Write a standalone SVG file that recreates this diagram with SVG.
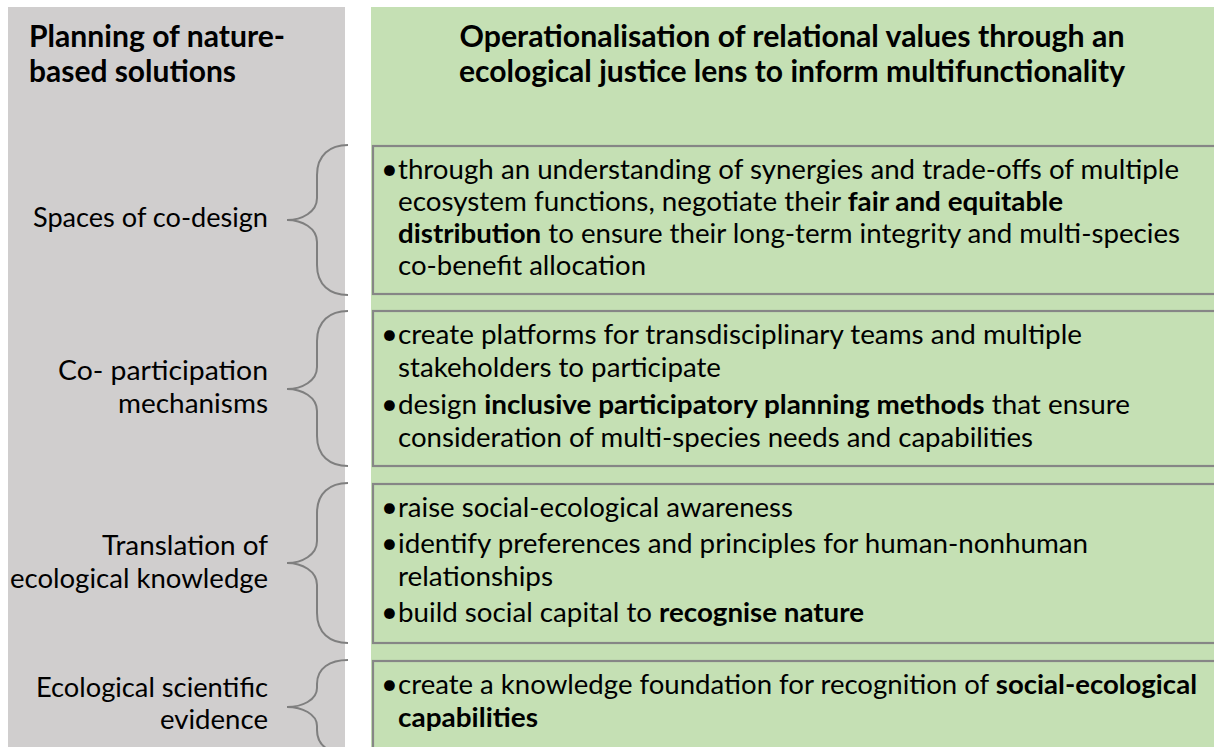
<svg xmlns="http://www.w3.org/2000/svg" width="1214" height="747" viewBox="0 0 1214 747">
<defs>
<style>
.t{font-family:Lato,"Liberation Sans",sans-serif;font-size:27px;fill:#000}
.b{font-weight:700}
.bul{font-family:Lato,"Liberation Sans",sans-serif;font-size:29px;fill:#000}
.h{font-family:Lato,"Liberation Sans",sans-serif;font-size:29.5px;font-weight:700;fill:#000}
.box{fill:#C5E0B4;stroke:#868686;stroke-width:2.2}
.brace{fill:none;stroke:#7F7F7F;stroke-width:2}
</style>
</defs>
<rect width="1214" height="747" fill="#FFFFFF"/>
<g id="left-column">
<rect x="8" y="7" width="337" height="745" fill="#D0CECE"/>
<text class="h" x="29" y="47" textLength="256" lengthAdjust="spacingAndGlyphs">Planning of nature-</text>
<text class="h" x="29" y="82" textLength="207" lengthAdjust="spacingAndGlyphs">based solutions</text>
</g>
<g id="right-column">
<rect x="371" y="7" width="850" height="745" fill="#C5E0B4"/>
<text class="h" x="792" y="47" text-anchor="middle" textLength="665" lengthAdjust="spacingAndGlyphs">Operationalisation of relational values through an</text>
<text class="h" x="792" y="82" text-anchor="middle" textLength="666" lengthAdjust="spacingAndGlyphs">ecological justice lens to inform multifunctionality</text>
</g>
<g id="label-spaces">
<text class="t" x="268" y="227" text-anchor="end" textLength="235" lengthAdjust="spacingAndGlyphs">Spaces of co-design</text>
</g>
<g id="label-coparticipation">
<text class="t" x="268" y="380" text-anchor="end" textLength="210" lengthAdjust="spacingAndGlyphs">Co- participation</text>
<text class="t" x="268" y="413" text-anchor="end" textLength="150" lengthAdjust="spacingAndGlyphs">mechanisms</text>
</g>
<g id="label-translation">
<text class="t" x="268" y="555" text-anchor="end" textLength="166" lengthAdjust="spacingAndGlyphs">Translation of</text>
<text class="t" x="268" y="588" text-anchor="end" textLength="258" lengthAdjust="spacingAndGlyphs">ecological knowledge</text>
</g>
<g id="label-evidence">
<text class="t" x="268" y="697" text-anchor="end" textLength="232" lengthAdjust="spacingAndGlyphs">Ecological scientific</text>
<text class="t" x="268" y="729" text-anchor="end" textLength="108" lengthAdjust="spacingAndGlyphs">evidence</text>
</g>
<g id="box-distribution">
<rect class="box" x="373" y="146" width="860" height="148"/>
<text class="bul" x="381" y="179">•</text>
<text class="t" x="398" y="179" textLength="781" lengthAdjust="spacingAndGlyphs">through an understanding of synergies and trade-offs of multiple</text>
<text class="t" x="398" y="211" textLength="665" lengthAdjust="spacingAndGlyphs">ecosystem functions, negotiate their <tspan class="b">fair and equitable</tspan></text>
<text class="t" x="398" y="243" textLength="782" lengthAdjust="spacingAndGlyphs"><tspan class="b">distribution</tspan> to ensure their long-term integrity and multi-species</text>
<text class="t" x="398" y="275" textLength="248" lengthAdjust="spacingAndGlyphs">co-benefit allocation</text>
</g>
<g id="box-participation">
<rect class="box" x="373" y="311" width="860" height="155"/>
<text class="bul" x="381" y="344">•</text>
<text class="t" x="398" y="344" textLength="684" lengthAdjust="spacingAndGlyphs">create platforms for transdisciplinary teams and multiple</text>
<text class="t" x="398" y="377" textLength="323" lengthAdjust="spacingAndGlyphs">stakeholders to participate</text>
<text class="bul" x="381" y="414">•</text>
<text class="t" x="398" y="414" textLength="732" lengthAdjust="spacingAndGlyphs">design <tspan class="b">inclusive participatory planning methods</tspan> that ensure</text>
<text class="t" x="398" y="447" textLength="635" lengthAdjust="spacingAndGlyphs">consideration of multi-species needs and capabilities</text>
</g>
<g id="box-awareness">
<rect class="box" x="373" y="484" width="860" height="159"/>
<text class="bul" x="381" y="517">•</text>
<text class="t" x="398" y="517" textLength="395" lengthAdjust="spacingAndGlyphs">raise social-ecological awareness</text>
<text class="bul" x="381" y="553">•</text>
<text class="t" x="398" y="553" textLength="690" lengthAdjust="spacingAndGlyphs">identify preferences and principles for human-nonhuman</text>
<text class="t" x="398" y="586" textLength="155" lengthAdjust="spacingAndGlyphs">relationships</text>
<text class="bul" x="381" y="622">•</text>
<text class="t" x="398" y="622" textLength="466" lengthAdjust="spacingAndGlyphs">build social capital to <tspan class="b">recognise nature</tspan></text>
</g>
<g id="box-knowledge">
<rect class="box" x="373" y="661" width="860" height="100"/>
<text class="bul" x="381" y="694">•</text>
<text class="t" x="398" y="694" textLength="799" lengthAdjust="spacingAndGlyphs">create a knowledge foundation for recognition of <tspan class="b">social-ecological</tspan></text>
<text class="t b" x="398" y="727" textLength="140" lengthAdjust="spacingAndGlyphs">capabilities</text>
</g>
<g id="connectors">
<path class="brace" d="M348,145 C330,145 317,155 317,175 L317,198 C317,212 302,220 287,220 C302,220 317,228 317,242 L317,265 C317,285 330,295 348,295"/>
<path class="brace" d="M348,311 C330,311 317,321 317,341 L317,367 C317,381 302,389 287,389 C302,389 317,397 317,411 L317,436 C317,456 330,466 348,466"/>
<path class="brace" d="M348,483 C330,483 317,493 317,513 L317,541 C317,555 302,563 287,563 C302,563 317,571 317,585 L317,613 C317,633 330,643 348,643"/>
<path class="brace" d="M348,660 C330,660 317,668 317,684 L317,688 C317,700 302,707 287,707 C302,707 317,714 317,726 L317,730 C317,746 330,754 348,754"/>
</g>
</svg>
